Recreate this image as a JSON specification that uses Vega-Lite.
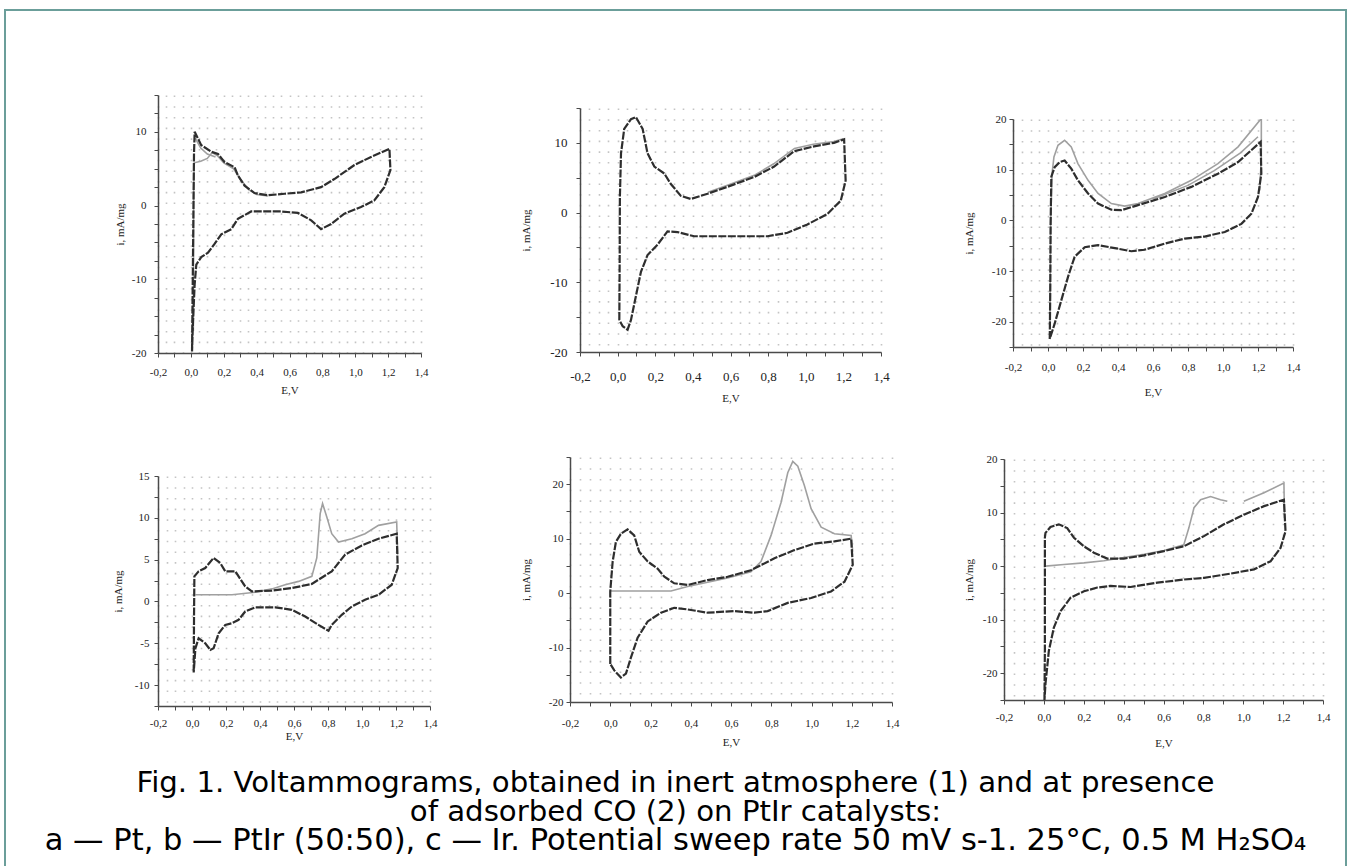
{
"$schema": "https://vega.github.io/schema/vega-lite/v6.json",
"padding": 0,
"background": "white",
"config": {
 "view": {"stroke": null},
 "axis": {"domainColor": "#4a4a4a", "domainWidth": 1.5, "tickColor": "#4a4a4a", "tickWidth": 1, "tickSize": 4, "labelFont": "Liberation Serif", "labelFontSize": 11, "labelColor": "#222222", "titleFont": "Liberation Serif", "titleFontSize": 11, "titleFontWeight": "normal", "titleColor": "#222222", "labelOverlap": false, "labelFlush": false, "labelBound": false, "gridColor": "#c4c4c4", "gridDash": [1.6, 9.1], "gridWidth": 1.6}
},
"datasets": {
 "cap": [
  {"line": 1, "t": "Fig. 1. Voltammograms, obtained in inert atmosphere (1) and at presence"},
  {"line": 2, "t": "of adsorbed CO (2) on PtIr catalysts:"},
  {"line": 3, "t": "a — Pt, b — PtIr (50:50), c — Ir. Potential sweep rate 50 mV s-1. 25°C, 0.5 M H₂SO₄"}
 ],
 "cv": [
  {"p":"a1","s":"2","E":0.015,"i":-17},{"p":"a1","s":"2","E":0.017,"i":2},{"p":"a1","s":"2","E":0.02,"i":5.8},{"p":"a1","s":"2","E":0.06,"i":6.0},{"p":"a1","s":"2","E":0.1,"i":6.4},{"p":"a1","s":"2","E":0.13,"i":7.2},{"p":"a1","s":"2","E":0.16,"i":6.8},{"p":"a1","s":"2","E":0.2,"i":5.8},{"p":"a1","s":"2","E":0.26,"i":5.0},{"p":"a1","s":"2","E":0.3,"i":3.6},{"p":"a1","s":"2","E":0.35,"i":2.2},{"p":"a1","s":"2","E":0.4,"i":1.5},{"p":"a1","s":"2","E":0.47,"i":1.3},
  {"p":"a1","s":"2b","E":0.025,"i":9.2},{"p":"a1","s":"2b","E":0.06,"i":7.8},{"p":"a1","s":"2b","E":0.1,"i":7.0},{"p":"a1","s":"2b","E":0.15,"i":6.6},
  {"p":"a1","s":"1","E":0.007,"i":-19.8},{"p":"a1","s":"1","E":0.011,"i":-11.1},{"p":"a1","s":"1","E":0.015,"i":-2.0},{"p":"a1","s":"1","E":0.019,"i":7.0},{"p":"a1","s":"1","E":0.023,"i":10.0},{"p":"a1","s":"1","E":0.063,"i":8.2},{"p":"a1","s":"1","E":0.124,"i":7.3},{"p":"a1","s":"1","E":0.165,"i":7.0},{"p":"a1","s":"1","E":0.205,"i":5.9},{"p":"a1","s":"1","E":0.266,"i":5.2},{"p":"a1","s":"1","E":0.286,"i":4.1},{"p":"a1","s":"1","E":0.327,"i":2.7},{"p":"a1","s":"1","E":0.387,"i":1.7},{"p":"a1","s":"1","E":0.468,"i":1.4},{"p":"a1","s":"1","E":0.57,"i":1.6},{"p":"a1","s":"1","E":0.671,"i":1.8},{"p":"a1","s":"1","E":0.792,"i":2.5},{"p":"a1","s":"1","E":0.873,"i":3.6},{"p":"a1","s":"1","E":0.995,"i":5.5},{"p":"a1","s":"1","E":1.096,"i":6.6},{"p":"a1","s":"1","E":1.208,"i":7.7},{"p":"a1","s":"1","E":1.214,"i":4.8},{"p":"a1","s":"1","E":1.177,"i":2.5},{"p":"a1","s":"1","E":1.116,"i":0.7},{"p":"a1","s":"1","E":1.035,"i":-0.2},{"p":"a1","s":"1","E":0.934,"i":-1.1},{"p":"a1","s":"1","E":0.853,"i":-2.5},{"p":"a1","s":"1","E":0.792,"i":-3.2},{"p":"a1","s":"1","E":0.732,"i":-2.0},{"p":"a1","s":"1","E":0.651,"i":-1.0},{"p":"a1","s":"1","E":0.549,"i":-0.8},{"p":"a1","s":"1","E":0.367,"i":-0.8},{"p":"a1","s":"1","E":0.286,"i":-1.8},{"p":"a1","s":"1","E":0.246,"i":-3.2},{"p":"a1","s":"1","E":0.185,"i":-3.9},{"p":"a1","s":"1","E":0.144,"i":-5.2},{"p":"a1","s":"1","E":0.104,"i":-6.4},{"p":"a1","s":"1","E":0.063,"i":-7.0},{"p":"a1","s":"1","E":0.033,"i":-8.0},{"p":"a1","s":"1","E":0.023,"i":-10.7},{"p":"a1","s":"1","E":0.013,"i":-15.7},{"p":"a1","s":"1","E":0.007,"i":-19.8},

  {"p":"b1","s":"2","E":0.48,"i":2.9},{"p":"b1","s":"2","E":0.58,"i":3.9},{"p":"b1","s":"2","E":0.73,"i":5.4},{"p":"b1","s":"2","E":0.83,"i":7.0},{"p":"b1","s":"2","E":0.94,"i":9.2},{"p":"b1","s":"2","E":1.04,"i":9.8},{"p":"b1","s":"2","E":1.15,"i":10.2},{"p":"b1","s":"2","E":1.2,"i":10.6},
  {"p":"b1","s":"1","E":0.009,"i":-15.4},{"p":"b1","s":"1","E":0.011,"i":-6.1},{"p":"b1","s":"1","E":0.012,"i":2.2},{"p":"b1","s":"1","E":0.018,"i":8.5},{"p":"b1","s":"1","E":0.035,"i":12.0},{"p":"b1","s":"1","E":0.071,"i":13.4},{"p":"b1","s":"1","E":0.097,"i":13.7},{"p":"b1","s":"1","E":0.133,"i":12.0},{"p":"b1","s":"1","E":0.159,"i":8.5},{"p":"b1","s":"1","E":0.195,"i":6.6},{"p":"b1","s":"1","E":0.248,"i":5.6},{"p":"b1","s":"1","E":0.283,"i":4.1},{"p":"b1","s":"1","E":0.336,"i":2.4},{"p":"b1","s":"1","E":0.389,"i":1.95},{"p":"b1","s":"1","E":0.478,"i":2.7},{"p":"b1","s":"1","E":0.584,"i":3.7},{"p":"b1","s":"1","E":0.726,"i":5.1},{"p":"b1","s":"1","E":0.832,"i":6.6},{"p":"b1","s":"1","E":0.938,"i":8.8},{"p":"b1","s":"1","E":1.044,"i":9.5},{"p":"b1","s":"1","E":1.15,"i":10.0},{"p":"b1","s":"1","E":1.204,"i":10.5},{"p":"b1","s":"1","E":1.212,"i":4.6},{"p":"b1","s":"1","E":1.186,"i":1.7},{"p":"b1","s":"1","E":1.115,"i":-0.2},{"p":"b1","s":"1","E":1.009,"i":-1.7},{"p":"b1","s":"1","E":0.903,"i":-2.9},{"p":"b1","s":"1","E":0.796,"i":-3.4},{"p":"b1","s":"1","E":0.584,"i":-3.4},{"p":"b1","s":"1","E":0.407,"i":-3.4},{"p":"b1","s":"1","E":0.319,"i":-2.8},{"p":"b1","s":"1","E":0.265,"i":-2.7},{"p":"b1","s":"1","E":0.212,"i":-4.6},{"p":"b1","s":"1","E":0.159,"i":-6.1},{"p":"b1","s":"1","E":0.124,"i":-8.5},{"p":"b1","s":"1","E":0.097,"i":-12.0},{"p":"b1","s":"1","E":0.071,"i":-15.4},{"p":"b1","s":"1","E":0.053,"i":-16.8},{"p":"b1","s":"1","E":0.027,"i":-16.3},{"p":"b1","s":"1","E":0.009,"i":-15.4},

  {"p":"c1","s":"2","E":0.011,"i":-20.4},{"p":"c1","s":"2","E":0.015,"i":-0.7},{"p":"c1","s":"2","E":0.023,"i":9.2},{"p":"c1","s":"2","E":0.034,"i":12.5},{"p":"c1","s":"2","E":0.057,"i":14.8},{"p":"c1","s":"2","E":0.095,"i":15.8},{"p":"c1","s":"2","E":0.133,"i":14.5},{"p":"c1","s":"2","E":0.171,"i":11.2},{"p":"c1","s":"2","E":0.229,"i":7.9},{"p":"c1","s":"2","E":0.286,"i":5.3},{"p":"c1","s":"2","E":0.362,"i":3.3},{"p":"c1","s":"2","E":0.438,"i":2.8},{"p":"c1","s":"2","E":0.514,"i":3.3},{"p":"c1","s":"2","E":0.667,"i":5.3},{"p":"c1","s":"2","E":0.819,"i":7.9},{"p":"c1","s":"2","E":0.971,"i":11.2},{"p":"c1","s":"2","E":1.086,"i":14.5},{"p":"c1","s":"2","E":1.219,"i":20.1},{"p":"c1","s":"2","E":1.219,"i":12.5},{"p":"c1","s":"2","E":1.21,"i":5.9},
  {"p":"c1","s":"2b","E":0.6,"i":4.2},{"p":"c1","s":"2b","E":0.8,"i":6.9},{"p":"c1","s":"2b","E":0.95,"i":9.8},{"p":"c1","s":"2b","E":1.1,"i":13.3},{"p":"c1","s":"2b","E":1.2,"i":16.5},
  {"p":"c1","s":"1","E":0.01,"i":-23.4},{"p":"c1","s":"1","E":0.013,"i":-13.8},{"p":"c1","s":"1","E":0.015,"i":-0.7},{"p":"c1","s":"1","E":0.019,"i":8.6},{"p":"c1","s":"1","E":0.038,"i":10.5},{"p":"c1","s":"1","E":0.067,"i":11.5},{"p":"c1","s":"1","E":0.095,"i":11.8},{"p":"c1","s":"1","E":0.133,"i":10.2},{"p":"c1","s":"1","E":0.171,"i":7.9},{"p":"c1","s":"1","E":0.229,"i":5.3},{"p":"c1","s":"1","E":0.286,"i":3.3},{"p":"c1","s":"1","E":0.362,"i":2.1},{"p":"c1","s":"1","E":0.419,"i":2.0},{"p":"c1","s":"1","E":0.514,"i":3.0},{"p":"c1","s":"1","E":0.667,"i":4.6},{"p":"c1","s":"1","E":0.819,"i":6.6},{"p":"c1","s":"1","E":0.971,"i":9.2},{"p":"c1","s":"1","E":1.086,"i":11.5},{"p":"c1","s":"1","E":1.215,"i":15.5},{"p":"c1","s":"1","E":1.219,"i":9.2},{"p":"c1","s":"1","E":1.2,"i":4.6},{"p":"c1","s":"1","E":1.162,"i":1.3},{"p":"c1","s":"1","E":1.105,"i":-0.7},{"p":"c1","s":"1","E":1.01,"i":-2.3},{"p":"c1","s":"1","E":0.895,"i":-3.2},{"p":"c1","s":"1","E":0.781,"i":-3.6},{"p":"c1","s":"1","E":0.667,"i":-4.6},{"p":"c1","s":"1","E":0.552,"i":-5.8},{"p":"c1","s":"1","E":0.476,"i":-6.1},{"p":"c1","s":"1","E":0.4,"i":-5.6},{"p":"c1","s":"1","E":0.286,"i":-4.9},{"p":"c1","s":"1","E":0.21,"i":-5.3},{"p":"c1","s":"1","E":0.152,"i":-7.2},{"p":"c1","s":"1","E":0.114,"i":-11.2},{"p":"c1","s":"1","E":0.076,"i":-15.8},{"p":"c1","s":"1","E":0.038,"i":-20.4},{"p":"c1","s":"1","E":0.01,"i":-23.4},

  {"p":"a2","s":"2","E":0.02,"i":0.8},{"p":"a2","s":"2","E":0.235,"i":0.8},{"p":"a2","s":"2","E":0.372,"i":1.1},{"p":"a2","s":"2","E":0.47,"i":1.5},{"p":"a2","s":"2","E":0.548,"i":2.0},{"p":"a2","s":"2","E":0.627,"i":2.4},{"p":"a2","s":"2","E":0.705,"i":3.0},{"p":"a2","s":"2","E":0.734,"i":5.2},{"p":"a2","s":"2","E":0.754,"i":10.5},{"p":"a2","s":"2","E":0.768,"i":11.7},{"p":"a2","s":"2","E":0.793,"i":10.1},{"p":"a2","s":"2","E":0.822,"i":8.1},{"p":"a2","s":"2","E":0.862,"i":7.1},{"p":"a2","s":"2","E":0.94,"i":7.5},{"p":"a2","s":"2","E":1.018,"i":8.1},{"p":"a2","s":"2","E":1.097,"i":9.1},{"p":"a2","s":"2","E":1.204,"i":9.5},{"p":"a2","s":"2","E":1.21,"i":5.6},
  {"p":"a2","s":"1","E":0.01,"i":-8.5},{"p":"a2","s":"1","E":0.012,"i":-1.6},{"p":"a2","s":"1","E":0.014,"i":3.0},{"p":"a2","s":"1","E":0.039,"i":3.6},{"p":"a2","s":"1","E":0.078,"i":4.0},{"p":"a2","s":"1","E":0.127,"i":5.2},{"p":"a2","s":"1","E":0.166,"i":4.6},{"p":"a2","s":"1","E":0.196,"i":3.6},{"p":"a2","s":"1","E":0.255,"i":3.6},{"p":"a2","s":"1","E":0.274,"i":3.0},{"p":"a2","s":"1","E":0.313,"i":1.8},{"p":"a2","s":"1","E":0.352,"i":1.2},{"p":"a2","s":"1","E":0.47,"i":1.3},{"p":"a2","s":"1","E":0.587,"i":1.6},{"p":"a2","s":"1","E":0.705,"i":2.1},{"p":"a2","s":"1","E":0.822,"i":3.6},{"p":"a2","s":"1","E":0.901,"i":5.6},{"p":"a2","s":"1","E":0.999,"i":6.7},{"p":"a2","s":"1","E":1.097,"i":7.5},{"p":"a2","s":"1","E":1.204,"i":8.1},{"p":"a2","s":"1","E":1.21,"i":4.0},{"p":"a2","s":"1","E":1.175,"i":2.0},{"p":"a2","s":"1","E":1.097,"i":0.8},{"p":"a2","s":"1","E":1.018,"i":0.2},{"p":"a2","s":"1","E":0.94,"i":-0.6},{"p":"a2","s":"1","E":0.881,"i":-1.6},{"p":"a2","s":"1","E":0.822,"i":-2.8},{"p":"a2","s":"1","E":0.803,"i":-3.5},{"p":"a2","s":"1","E":0.744,"i":-2.8},{"p":"a2","s":"1","E":0.666,"i":-1.8},{"p":"a2","s":"1","E":0.587,"i":-1.0},{"p":"a2","s":"1","E":0.49,"i":-0.7},{"p":"a2","s":"1","E":0.372,"i":-0.7},{"p":"a2","s":"1","E":0.313,"i":-1.2},{"p":"a2","s":"1","E":0.274,"i":-2.2},{"p":"a2","s":"1","E":0.235,"i":-2.6},{"p":"a2","s":"1","E":0.196,"i":-2.8},{"p":"a2","s":"1","E":0.157,"i":-3.8},{"p":"a2","s":"1","E":0.127,"i":-5.6},{"p":"a2","s":"1","E":0.108,"i":-5.8},{"p":"a2","s":"1","E":0.078,"i":-5.0},{"p":"a2","s":"1","E":0.039,"i":-4.4},{"p":"a2","s":"1","E":0.02,"i":-5.6},{"p":"a2","s":"1","E":0.01,"i":-8.5},

  {"p":"b2","s":"2","E":0.0,"i":0.4},{"p":"b2","s":"2","E":0.302,"i":0.4},{"p":"b2","s":"2","E":0.385,"i":1.2},{"p":"b2","s":"2","E":0.484,"i":2.0},{"p":"b2","s":"2","E":0.583,"i":2.8},{"p":"b2","s":"2","E":0.699,"i":3.9},{"p":"b2","s":"2","E":0.749,"i":5.8},{"p":"b2","s":"2","E":0.799,"i":10.6},{"p":"b2","s":"2","E":0.849,"i":16.7},{"p":"b2","s":"2","E":0.882,"i":22.1},{"p":"b2","s":"2","E":0.907,"i":24.2},{"p":"b2","s":"2","E":0.932,"i":23.3},{"p":"b2","s":"2","E":0.965,"i":19.7},{"p":"b2","s":"2","E":0.998,"i":15.5},{"p":"b2","s":"2","E":1.048,"i":12.1},{"p":"b2","s":"2","E":1.114,"i":10.9},{"p":"b2","s":"2","E":1.197,"i":10.6},{"p":"b2","s":"2","E":1.205,"i":7.6},
  {"p":"b2","s":"1","E":0.0,"i":-13.0},{"p":"b2","s":"1","E":0.0,"i":0.3},{"p":"b2","s":"1","E":0.012,"i":5.8},{"p":"b2","s":"1","E":0.028,"i":9.4},{"p":"b2","s":"1","E":0.053,"i":10.9},{"p":"b2","s":"1","E":0.086,"i":11.7},{"p":"b2","s":"1","E":0.119,"i":10.6},{"p":"b2","s":"1","E":0.144,"i":7.6},{"p":"b2","s":"1","E":0.186,"i":5.8},{"p":"b2","s":"1","E":0.235,"i":4.5},{"p":"b2","s":"1","E":0.269,"i":3.0},{"p":"b2","s":"1","E":0.318,"i":1.8},{"p":"b2","s":"1","E":0.385,"i":1.5},{"p":"b2","s":"1","E":0.484,"i":2.4},{"p":"b2","s":"1","E":0.583,"i":3.0},{"p":"b2","s":"1","E":0.699,"i":4.2},{"p":"b2","s":"1","E":0.816,"i":6.4},{"p":"b2","s":"1","E":0.915,"i":7.9},{"p":"b2","s":"1","E":1.014,"i":9.1},{"p":"b2","s":"1","E":1.114,"i":9.5},{"p":"b2","s":"1","E":1.197,"i":10.0},{"p":"b2","s":"1","E":1.205,"i":5.2},{"p":"b2","s":"1","E":1.164,"i":2.1},{"p":"b2","s":"1","E":1.097,"i":0.3},{"p":"b2","s":"1","E":0.998,"i":-0.9},{"p":"b2","s":"1","E":0.882,"i":-1.8},{"p":"b2","s":"1","E":0.782,"i":-3.3},{"p":"b2","s":"1","E":0.716,"i":-3.6},{"p":"b2","s":"1","E":0.617,"i":-3.3},{"p":"b2","s":"1","E":0.484,"i":-3.6},{"p":"b2","s":"1","E":0.385,"i":-3.0},{"p":"b2","s":"1","E":0.318,"i":-2.7},{"p":"b2","s":"1","E":0.252,"i":-3.6},{"p":"b2","s":"1","E":0.186,"i":-5.2},{"p":"b2","s":"1","E":0.136,"i":-8.2},{"p":"b2","s":"1","E":0.103,"i":-11.8},{"p":"b2","s":"1","E":0.078,"i":-14.8},{"p":"b2","s":"1","E":0.053,"i":-15.5},{"p":"b2","s":"1","E":0.02,"i":-14.2},{"p":"b2","s":"1","E":0.0,"i":-13.0},

  {"p":"c2","s":"2","E":0.008,"i":0.0},{"p":"c2","s":"2","E":0.1,"i":0.3},{"p":"c2","s":"2","E":0.201,"i":0.6},{"p":"c2","s":"2","E":0.301,"i":1.0},{"p":"c2","s":"2","E":0.401,"i":1.6},{"p":"c2","s":"2","E":0.502,"i":2.2},{"p":"c2","s":"2","E":0.602,"i":2.9},{"p":"c2","s":"2","E":0.702,"i":4.0},{"p":"c2","s":"2","E":0.727,"i":7.1},{"p":"c2","s":"2","E":0.753,"i":10.9},{"p":"c2","s":"2","E":0.786,"i":12.4},{"p":"c2","s":"2","E":0.836,"i":13.0},{"p":"c2","s":"2","E":0.886,"i":12.4},{"p":"c2","s":"2","E":0.92,"i":12.1},
  {"p":"c2","s":"2b","E":1.003,"i":12.1},{"p":"c2","s":"2b","E":1.104,"i":13.7},{"p":"c2","s":"2b","E":1.204,"i":15.5},{"p":"c2","s":"2b","E":1.207,"i":9.0},
  {"p":"c2","s":"1","E":0.003,"i":-25.0},{"p":"c2","s":"1","E":0.005,"i":-15.8},{"p":"c2","s":"1","E":0.005,"i":-3.4},{"p":"c2","s":"1","E":0.005,"i":5.3},{"p":"c2","s":"1","E":0.008,"i":6.2},{"p":"c2","s":"1","E":0.033,"i":7.3},{"p":"c2","s":"1","E":0.075,"i":7.8},{"p":"c2","s":"1","E":0.117,"i":7.1},{"p":"c2","s":"1","E":0.151,"i":5.3},{"p":"c2","s":"1","E":0.201,"i":3.7},{"p":"c2","s":"1","E":0.251,"i":2.5},{"p":"c2","s":"1","E":0.318,"i":1.4},{"p":"c2","s":"1","E":0.401,"i":1.4},{"p":"c2","s":"1","E":0.502,"i":2.0},{"p":"c2","s":"1","E":0.602,"i":2.8},{"p":"c2","s":"1","E":0.702,"i":3.7},{"p":"c2","s":"1","E":0.803,"i":5.6},{"p":"c2","s":"1","E":0.903,"i":7.8},{"p":"c2","s":"1","E":1.003,"i":9.6},{"p":"c2","s":"1","E":1.104,"i":11.2},{"p":"c2","s":"1","E":1.204,"i":12.4},{"p":"c2","s":"1","E":1.212,"i":6.5},{"p":"c2","s":"1","E":1.187,"i":3.4},{"p":"c2","s":"1","E":1.137,"i":0.9},{"p":"c2","s":"1","E":1.054,"i":-0.6},{"p":"c2","s":"1","E":0.936,"i":-1.4},{"p":"c2","s":"1","E":0.803,"i":-2.2},{"p":"c2","s":"1","E":0.702,"i":-2.5},{"p":"c2","s":"1","E":0.569,"i":-3.1},{"p":"c2","s":"1","E":0.435,"i":-3.9},{"p":"c2","s":"1","E":0.334,"i":-3.7},{"p":"c2","s":"1","E":0.268,"i":-4.0},{"p":"c2","s":"1","E":0.201,"i":-4.7},{"p":"c2","s":"1","E":0.134,"i":-5.9},{"p":"c2","s":"1","E":0.084,"i":-8.4},{"p":"c2","s":"1","E":0.05,"i":-11.5},{"p":"c2","s":"1","E":0.025,"i":-15.8},{"p":"c2","s":"1","E":0.008,"i":-22.0},{"p":"c2","s":"1","E":0.003,"i":-25.0}
 ]
},
"spacing": 0,
"hconcat": [
 {"width": 4, "height": 10, "data": {"values": []}, "mark": "point"},
 {"spacing": 0, "vconcat": [
   {"width": 2, "height": 9, "data": {"values": []}, "mark": "point"},
   {"width": 2, "height": 857, "view": {"fill": "#6b9e9a", "stroke": null}, "data": {"values": []}, "mark": "point"}
 ]},
 {"spacing": 0, "vconcat": [
   {"width": 10, "height": 9, "data": {"values": []}, "mark": "point"},
   {"width": 1339, "height": 2, "view": {"fill": "#6b9e9a", "stroke": null}, "data": {"values": []}, "mark": "point"},
   {"spacing": 0, "hconcat": [
     {"width": 106, "height": 10, "data": {"values": []}, "mark": "point"},
     {"spacing": 0, "vconcat": [
       {"width": 10, "height": 78, "data": {"values": []}, "mark": "point"},
       {"width": 263, "height": 258, "data": {"name": "cv"}, "transform": [{"filter": "datum.p == 'a1'"}],
        "encoding": {
         "x": {"field": "E", "type": "quantitative", "scale": {"domain": [-0.2, 1.4], "nice": false, "zero": false},
               "axis": {"title": "E,V", "values": [-0.2,-0.15,-0.1,-0.05,0,0.05,0.1,0.15,0.2,0.25,0.3,0.35,0.4,0.45,0.5,0.55,0.6,0.65,0.7,0.75,0.8,0.85,0.9,0.95,1,1.05,1.1,1.15,1.2,1.25,1.3,1.35,1.4],
                        "labelExpr": "abs(round(datum.value*20)) % 4 == 0 ? replace(replace(format(datum.value, '.1f'), '.', ','), '\u2212', '-') : ''",
                        "tickOpacity": {"condition": {"test": "abs(round(datum.value*20)) % 2 == 1", "value": 0}, "value": 1},
                        "grid": true, "labelPadding": 9.5, "titlePadding": 7}},
         "y": {"field": "i", "type": "quantitative", "scale": {"domain": [-20, 15], "nice": false, "zero": false},
               "axis": {"title": "i, mA/mg", "values": [-20,-17.5,-15,-12.5,-10,-7.5,-5,-2.5,0,2.5,5,7.5,10,12.5,15], "labelExpr": "datum.value % 10 == 0 ? '' + datum.value : ''", "grid": false, "labelPadding": 8, "titlePadding": 6}},
         "order": {"value": null},
         "detail": {"field": "s", "type": "nominal"}
        },
        "layer": [
         {"transform": [{"filter": "datum.s != '1'"}], "mark": {"type": "line", "color": "#a0a0a0", "strokeWidth": 1.6, "clip": true}},
         {"transform": [{"filter": "datum.s == '1'"}], "mark": {"type": "line", "color": "#2e2e2e", "strokeWidth": 2.2, "strokeDash": [8, 1.5], "clip": true}}
        ]},
       {"width": 10, "height": 74, "data": {"values": []}, "mark": "point"},
       {"width": 272, "height": 230, "data": {"name": "cv"}, "transform": [{"filter": "datum.p == 'a2'"}],
        "encoding": {
         "x": {"field": "E", "type": "quantitative", "scale": {"domain": [-0.2, 1.4], "nice": false, "zero": false},
               "axis": {"title": "E,V", "values": [-0.2,-0.15,-0.1,-0.05,0,0.05,0.1,0.15,0.2,0.25,0.3,0.35,0.4,0.45,0.5,0.55,0.6,0.65,0.7,0.75,0.8,0.85,0.9,0.95,1,1.05,1.1,1.15,1.2,1.25,1.3,1.35,1.4],
                        "labelExpr": "abs(round(datum.value*20)) % 4 == 0 ? replace(replace(format(datum.value, '.1f'), '.', ','), '\u2212', '-') : ''",
                        "tickOpacity": {"condition": {"test": "abs(round(datum.value*20)) % 2 == 1", "value": 0}, "value": 1},
                        "grid": true, "labelPadding": 7, "titlePadding": 2.5}},
         "y": {"field": "i", "type": "quantitative", "scale": {"domain": [-12.5, 15], "nice": false, "zero": false},
               "axis": {"title": "i, mA/mg", "values": [-12.5,-10,-7.5,-5,-2.5,0,2.5,5,7.5,10,12.5,15], "labelExpr": "datum.value % 5 == 0 ? '' + datum.value : ''", "grid": false, "labelPadding": 5, "titlePadding": 11.3}},
         "order": {"value": null},
         "detail": {"field": "s", "type": "nominal"}
        },
        "layer": [
         {"transform": [{"filter": "datum.s != '1'"}], "mark": {"type": "line", "color": "#a0a0a0", "strokeWidth": 1.6, "clip": true}},
         {"transform": [{"filter": "datum.s == '1'"}], "mark": {"type": "line", "color": "#2e2e2e", "strokeWidth": 2.2, "strokeDash": [8, 1.5], "clip": true}}
        ]}
     ]},
     {"width": 82, "height": 10, "data": {"values": []}, "mark": "point"},
     {"spacing": 0, "vconcat": [
       {"width": 10, "height": 91, "data": {"values": []}, "mark": "point"},
       {"spacing": 0, "hconcat": [
         {"width": 1, "height": 10, "data": {"values": []}, "mark": "point"},
         {"width": 301, "height": 244, "data": {"name": "cv"}, "transform": [{"filter": "datum.p == 'b1'"}],
          "encoding": {
           "x": {"field": "E", "type": "quantitative", "scale": {"domain": [-0.2, 1.4], "nice": false, "zero": false},
                 "axis": {"title": "E,V", "values": [-0.2,-0.15,-0.1,-0.05,0,0.05,0.1,0.15,0.2,0.25,0.3,0.35,0.4,0.45,0.5,0.55,0.6,0.65,0.7,0.75,0.8,0.85,0.9,0.95,1,1.05,1.1,1.15,1.2,1.25,1.3,1.35,1.4],
                          "labelExpr": "abs(round(datum.value*20)) % 4 == 0 ? replace(replace(format(datum.value, '.1f'), '.', ','), '\u2212', '-') : ''",
                          "tickOpacity": {"condition": {"test": "abs(round(datum.value*20)) % 2 == 1", "value": 0}, "value": 1},
                          "grid": true, "labelFontSize": 13, "labelPadding": 14.5, "titlePadding": 9}},
           "y": {"field": "i", "type": "quantitative", "scale": {"domain": [-20, 15], "nice": false, "zero": false},
                 "axis": {"title": "i, mA/mg", "values": [-20,-15,-10,-5,0,5,10,15], "labelExpr": "datum.value % 10 == 0 ? '' + datum.value : ''", "grid": false, "labelFontSize": 13, "labelPadding": 9, "titlePadding": 18.4}},
           "order": {"value": null},
           "detail": {"field": "s", "type": "nominal"}
          },
          "layer": [
           {"transform": [{"filter": "datum.s != '1'"}], "mark": {"type": "line", "color": "#a0a0a0", "strokeWidth": 1.6, "clip": true}},
           {"transform": [{"filter": "datum.s == '1'"}], "mark": {"type": "line", "color": "#2e2e2e", "strokeWidth": 2.2, "strokeDash": [8, 1.5], "clip": true}}
          ]}
       ]},
       {"width": 10, "height": 47, "data": {"values": []}, "mark": "point"},
       {"spacing": 0, "hconcat": [
         {"width": 1, "height": 10, "data": {"values": []}, "mark": "point"},
         {"width": 322, "height": 245, "data": {"name": "cv"}, "transform": [{"filter": "datum.p == 'b2'"}],
          "encoding": {
           "x": {"field": "E", "type": "quantitative", "scale": {"domain": [-0.2, 1.4], "nice": false, "zero": false},
                 "axis": {"title": "E,V", "values": [-0.2,-0.15,-0.1,-0.05,0,0.05,0.1,0.15,0.2,0.25,0.3,0.35,0.4,0.45,0.5,0.55,0.6,0.65,0.7,0.75,0.8,0.85,0.9,0.95,1,1.05,1.1,1.15,1.2,1.25,1.3,1.35,1.4],
                          "labelExpr": "abs(round(datum.value*20)) % 4 == 0 ? replace(replace(format(datum.value, '.1f'), '.', ','), '\u2212', '-') : ''",
                          "tickOpacity": {"condition": {"test": "abs(round(datum.value*20)) % 2 == 1", "value": 0}, "value": 1},
                          "grid": true, "labelPadding": 11.5, "titlePadding": 8}},
           "y": {"field": "i", "type": "quantitative", "scale": {"domain": [-20, 25], "nice": false, "zero": false},
                 "axis": {"title": "i, mA/mg", "values": [-20,-15,-10,-5,0,5,10,15,20,25], "labelExpr": "datum.value % 10 == 0 ? '' + datum.value : ''", "grid": false, "labelPadding": 3, "titlePadding": 17}},
           "order": {"value": null},
           "detail": {"field": "s", "type": "nominal"}
          },
          "layer": [
           {"transform": [{"filter": "datum.s != '1'"}], "mark": {"type": "line", "color": "#a0a0a0", "strokeWidth": 1.6, "clip": true}},
           {"transform": [{"filter": "datum.s == '1'"}], "mark": {"type": "line", "color": "#2e2e2e", "strokeWidth": 2.2, "strokeDash": [8, 1.5], "clip": true}}
          ]}
       ]}
     ]},
     {"width": 63, "height": 10, "data": {"values": []}, "mark": "point"},
     {"spacing": 0, "vconcat": [
       {"width": 10, "height": 102, "data": {"values": []}, "mark": "point"},
       {"spacing": 0, "hconcat": [
         {"width": 1, "height": 10, "data": {"values": []}, "mark": "point"},
         {"width": 280, "height": 228, "data": {"name": "cv"}, "transform": [{"filter": "datum.p == 'c1'"}],
          "encoding": {
           "x": {"field": "E", "type": "quantitative", "scale": {"domain": [-0.2, 1.4], "nice": false, "zero": false},
                 "axis": {"title": "E,V", "values": [-0.2,-0.15,-0.1,-0.05,0,0.05,0.1,0.15,0.2,0.25,0.3,0.35,0.4,0.45,0.5,0.55,0.6,0.65,0.7,0.75,0.8,0.85,0.9,0.95,1,1.05,1.1,1.15,1.2,1.25,1.3,1.35,1.4],
                          "labelExpr": "abs(round(datum.value*20)) % 4 == 0 ? replace(replace(format(datum.value, '.1f'), '.', ','), '\u2212', '-') : ''",
                          "tickOpacity": {"condition": {"test": "abs(round(datum.value*20)) % 2 == 1", "value": 0}, "value": 1},
                          "grid": true, "labelPadding": 10.5, "titlePadding": 14}},
           "y": {"field": "i", "type": "quantitative", "scale": {"domain": [-25, 20], "nice": false, "zero": false},
                 "axis": {"title": "i, mA/mg", "values": [-25,-20,-15,-10,-5,0,5,10,15,20], "labelExpr": "datum.value % 10 == 0 ? '' + datum.value : ''", "grid": false, "labelPadding": 3, "titlePadding": 16.4}},
           "order": {"value": null},
           "detail": {"field": "s", "type": "nominal"}
          },
          "layer": [
           {"transform": [{"filter": "datum.s != '1'"}], "mark": {"type": "line", "color": "#a0a0a0", "strokeWidth": 1.6, "clip": true}},
           {"transform": [{"filter": "datum.s == '1'"}], "mark": {"type": "line", "color": "#2e2e2e", "strokeWidth": 2.2, "strokeDash": [8, 1.5], "clip": true}}
          ]}
       ]},
       {"width": 10, "height": 55, "data": {"values": []}, "mark": "point"},
       {"spacing": 0, "hconcat": [
         {"width": 1, "height": 10, "data": {"values": []}, "mark": "point"},
         {"width": 319, "height": 241, "data": {"name": "cv"}, "transform": [{"filter": "datum.p == 'c2'"}],
          "encoding": {
           "x": {"field": "E", "type": "quantitative", "scale": {"domain": [-0.2, 1.4], "nice": false, "zero": false},
                 "axis": {"title": "E,V", "values": [-0.2,-0.15,-0.1,-0.05,0,0.05,0.1,0.15,0.2,0.25,0.3,0.35,0.4,0.45,0.5,0.55,0.6,0.65,0.7,0.75,0.8,0.85,0.9,0.95,1,1.05,1.1,1.15,1.2,1.25,1.3,1.35,1.4],
                          "labelExpr": "abs(round(datum.value*20)) % 4 == 0 ? replace(replace(format(datum.value, '.1f'), '.', ','), '\u2212', '-') : ''",
                          "tickOpacity": {"condition": {"test": "abs(round(datum.value*20)) % 2 == 1", "value": 0}, "value": 1},
                          "grid": true, "labelPadding": 7, "titlePadding": 15.5}},
           "y": {"field": "i", "type": "quantitative", "scale": {"domain": [-25, 20], "nice": false, "zero": false},
                 "axis": {"title": "i, mA/mg", "values": [-25,-20,-15,-10,-5,0,5,10,15,20], "labelExpr": "datum.value % 10 == 0 ? '' + datum.value : ''", "grid": false, "labelPadding": 3, "titlePadding": 8}},
           "order": {"value": null},
           "detail": {"field": "s", "type": "nominal"}
          },
          "layer": [
           {"transform": [{"filter": "datum.s != '1'"}], "mark": {"type": "line", "color": "#a0a0a0", "strokeWidth": 1.6, "clip": true}},
           {"transform": [{"filter": "datum.s == '1'"}], "mark": {"type": "line", "color": "#2e2e2e", "strokeWidth": 2.2, "strokeDash": [8, 1.5], "clip": true}}
          ]}
       ]}
     ]}
   ]},
   {"width": 10, "height": 20, "data": {"values": []}, "mark": "point"},
   {"width": 1339, "height": 58, "data": {"name": "cap"},
    "mark": {"type": "text", "font": "DejaVu Sans", "color": "#000000", "align": "center", "baseline": "alphabetic"},
    "encoding": {
     "x": {"datum": 0.5, "type": "quantitative", "scale": {"domain": [0, 1], "nice": false, "zero": false}, "axis": null},
     "y": {"field": "line", "type": "ordinal", "axis": null, "scale": {"type": "point", "padding": 0}},
     "size": {"condition": {"test": "datum.line == 3", "value": 30.5}, "value": 29.2},
     "text": {"field": "t"}}}
 ]},
 {"spacing": 0, "vconcat": [
   {"width": 2, "height": 9, "data": {"values": []}, "mark": "point"},
   {"width": 2, "height": 857, "view": {"fill": "#6b9e9a", "stroke": null}, "data": {"values": []}, "mark": "point"}
 ]},
 {"width": 5, "height": 10, "data": {"values": []}, "mark": "point"}
]
}
